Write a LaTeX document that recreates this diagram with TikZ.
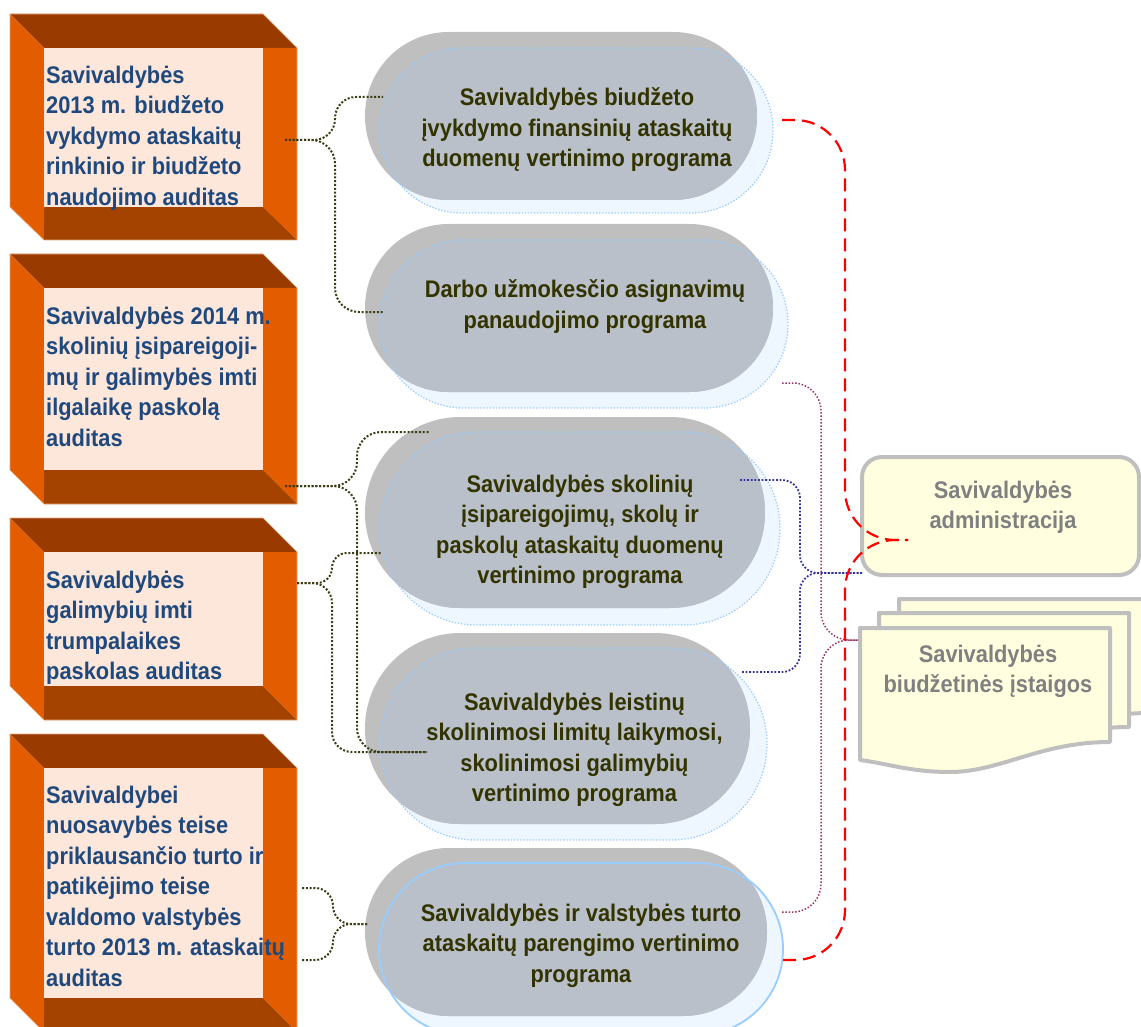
\documentclass[tikz,border=0pt]{standalone}
\usepackage{fontspec}
\setmainfont{Liberation Sans}
\newfontfamily\cfont[FakeStretch=0.91]{Liberation Sans}
\usetikzlibrary{calc}

\definecolor{topband}{RGB}{153,59,0}
\definecolor{botband}{RGB}{164,66,0}
\definecolor{sideor}{RGB}{227,92,0}
\definecolor{facepeach}{RGB}{253,230,218}
\definecolor{edgeor}{RGB}{233,163,120}
\definecolor{bluetext}{RGB}{31,73,125}
\definecolor{olivetext}{RGB}{51,51,0}
\definecolor{pgray}{RGB}{191,191,191}
\definecolor{pblue}{RGB}{238,246,255}
\definecolor{povl}{RGB}{185,192,201}
\definecolor{pline}{RGB}{153,204,255}
\definecolor{oliveline}{RGB}{60,60,20}
\definecolor{navyline}{RGB}{51,51,153}
\definecolor{plumline}{RGB}{153,51,102}
\definecolor{boxyellow}{RGB}{255,255,224}
\definecolor{boxgray}{RGB}{191,191,191}
\definecolor{graytext}{RGB}{128,128,128}

\tikzset{
  txtfont/.style={font=\cfont\bfseries\fontsize{24pt}{30.5pt}\selectfont, inner sep=0pt},
  lbtext/.style={txtfont, text=bluetext, align=left, anchor=north west},
  pilltext/.style={txtfont, text=olivetext, align=center, anchor=north},
  rbtext/.style={txtfont, text=graytext, align=center, anchor=north},
  pilldot/.style={draw=pline, line width=1.3pt, dash pattern=on 1.3pt off 1.8pt},
  pillsolid/.style={draw=pline, line width=1.8pt},
  olivecon/.style={draw=oliveline, line width=2pt, dash pattern=on 2pt off 1.8pt},
  navycon/.style={draw=navyline, line width=1.8pt, dash pattern=on 1.8pt off 1.8pt},
  plumcon/.style={draw=plumline, line width=1.5pt, dash pattern=on 1.5pt off 1.8pt},
  redcon/.style={draw=red, line width=2.2pt, dash pattern=on 13pt off 7pt},
  rbox/.style={draw=boxgray, fill=boxyellow, line width=4pt, line join=round},
}

\newcommand\bevelbox[4]{%
  \fill[topband] (10,#1) -- (263,#1) -- (297,#2) -- (44,#2) -- cycle;
  \fill[sideor] (10,#1) -- (44,#2) -- (44,#4) -- (10,#3) -- cycle;
  \fill[sideor] (263,#2) -- (297,#2) -- (297,#4) -- (263,#3) -- cycle;
  \fill[botband] (44,#3) -- (263,#3) -- (297,#4) -- (44,#4) -- cycle;
  \fill[facepeach] (44,#2) rectangle (263,#3);
  \draw[edgeor, line width=0.7pt] (10,#1) -- (263,#1) -- (297,#2) -- (297,#4) -- (44,#4) -- (10,#3) -- cycle;
}

\newcommand\mypill[9]{%
  \pgfmathsetmacro\rg{(#5-#3)/2-0.3}%
  \pgfmathsetmacro\rb{(#9-#7)/2-0.3}%
  \fill[pblue, rounded corners=\rb pt] (#6,#7) rectangle (#8,#9);
  \fill[pgray, rounded corners=\rg pt] (#2,#3) rectangle (#4,#5);
  \begin{scope}
    \clip[rounded corners=\rg pt] (#2,#3) rectangle (#4,#5);
    \fill[povl, rounded corners=\rb pt] (#6,#7) rectangle (#8,#9);
  \end{scope}
  \draw[#1, rounded corners=\rb pt] (#6,#7) rectangle (#8,#9);
}

\newcommand\docshape{(860,628) -- (1110,628) -- (1110,742)
  .. controls (1040,742) and (1000,772) .. (950,772)
  .. controls (910,772) and (885,763) .. (860,760) -- cycle}

\begin{document}
\begin{tikzpicture}[x=1pt, y=-1pt]
\useasboundingbox (0,0) rectangle (1141,1027);
\clip (0,0) rectangle (1141,1027);

% ---------- left 3D boxes ----------
\bevelbox{14}{48}{207}{240}
\bevelbox{254}{288}{470}{504}
\bevelbox{518}{552}{686}{720}
\bevelbox{734}{768}{998}{1032}

\node[lbtext] (a1) at (46,65.5) {Savivaldybės\\2013 m. biudžeto\\vykdymo ataskaitų\\rinkinio ir biudžeto\\naudojimo auditas};
\node[lbtext] (a2) at (46,306.5) {Savivaldybės 2014 m.\\skolinių įsipareigoji-\\mų ir galimybės imti\\ilgalaikę paskolą\\auditas};
\node[lbtext] (a3) at (46,570.5) {Savivaldybės\\galimybių imti\\trumpalaikes\\paskolas auditas};
\node[lbtext] (a4) at (46,785.5) {Savivaldybei\\nuosavybės teise\\priklausančio turto ir\\patikėjimo teise\\valdomo valstybės\\turto 2013 m. ataskaitų\\auditas};

% ---------- pills ----------
\mypill{pilldot}{365}{32}{757}{200}{380}{48}{773}{213}
\mypill{pilldot}{365}{224}{773}{392}{380}{240}{788}{408}
\mypill{pilldot}{365}{417}{765}{608}{380}{432}{780}{625}
\mypill{pilldot}{365}{633}{750}{824}{380}{648}{767}{840}
\mypill{pillsolid}{365}{848}{767}{1016}{379}{863}{783}{1035}

\node[pilltext] (p1) at (577,87.5) {Savivaldybės biudžeto\\įvykdymo finansinių ataskaitų\\duomenų vertinimo programa};
\node[pilltext] (p2) at (585,279.5) {Darbo užmokesčio asignavimų\\panaudojimo programa};
\node[pilltext] (p3) at (580,474.5) {Savivaldybės skolinių\\įsipareigojimų, skolų ir\\paskolų ataskaitų duomenų\\vertinimo programa};
\node[pilltext] (p4) at (574.5,692.5) {Savivaldybės leistinų\\skolinimosi limitų laikymosi,\\skolinimosi galimybių\\vertinimo programa};
\node[pilltext] (p5) at (581,903.5) {Savivaldybės ir valstybės turto\\ataskaitų parengimo vertinimo\\programa};

% ---------- right boxes ----------
\draw[rbox, rounded corners=20pt] (862,457) rectangle (1139,575);
\node[rbtext] (adm) at (1003,480.5) {Savivaldybės\\administracija};

\begin{scope}[shift={(39,-29)}]
  \draw[rbox] \docshape;
\end{scope}
\begin{scope}[shift={(19,-15)}]
  \draw[rbox] \docshape;
\end{scope}
\draw[rbox] \docshape;
\node[rbtext] (docs) at (988,644.5) {Savivaldybės\\biudžetinės įstaigos};

% ---------- connection points ----------
\coordinate (b1o) at (285,140);
\coordinate (b2o) at (285,486);
\coordinate (b3o) at (297,583);
\coordinate (b4a) at (302,888);
\coordinate (b4b) at (302,960);
\coordinate (p1L) at (383,97);
\coordinate (p2L) at (383,312);
\coordinate (p3T) at (430,432);
\coordinate (p3L) at (382,553);
\coordinate (p4L) at (427,752);
\coordinate (p5L) at (367,924);
\coordinate (p1R) at (782,120);
\coordinate (p2R) at (782,383);
\coordinate (p3R) at (740,480);
\coordinate (p4R) at (742,672);
\coordinate (p5Ra) at (782,912);
\coordinate (p5Rb) at (783,960);
\coordinate (admBL) at (862,573);
\coordinate (admIn) at (908,540);
\coordinate (docsL) at (858,640);

% ---------- connectors ----------
\draw[olivecon, rounded corners=21pt] (b1o) -- ++(50,0) |- (p1L);
\draw[olivecon, rounded corners=24pt] (b1o) -- ++(50,0) |- (p2L);
\draw[olivecon, rounded corners=24pt] (b2o) -- ++(72,0) |- (p3T);
\draw[olivecon, rounded corners=24pt] (b2o) -- ++(72,0) |- (p4L);
\draw[olivecon, rounded corners=15pt] (b3o) -- ++(35,0) |- (p3L);
\draw[olivecon, rounded corners=20pt] (b3o) -- ++(35,0) |- (p4L);
\draw[olivecon, rounded corners=18pt] (b4a) -- ++(31,0) |- (p5L);
\draw[olivecon, rounded corners=18pt] (b4b) -- ++(31,0) |- (p5L);

\draw[plumcon, rounded corners=28pt] (p2R) -- ++(39,0) |- (docsL);
\draw[plumcon, rounded corners=28pt] (p5Ra) -- ++(39,0) |- (docsL);

\draw[navycon, rounded corners=18pt] (p3R) -- ++(60,0) |- (admBL);
\draw[navycon, rounded corners=18pt] (p4R) -- ++(58,0) |- (admBL);

\draw[redcon, rounded corners=50pt] (p1R) -- ++(63,0) |- (admIn);
\draw[redcon, rounded corners=50pt] (p5Rb) -- ++(62,0) |- (admIn);
\end{tikzpicture}
\end{document}
